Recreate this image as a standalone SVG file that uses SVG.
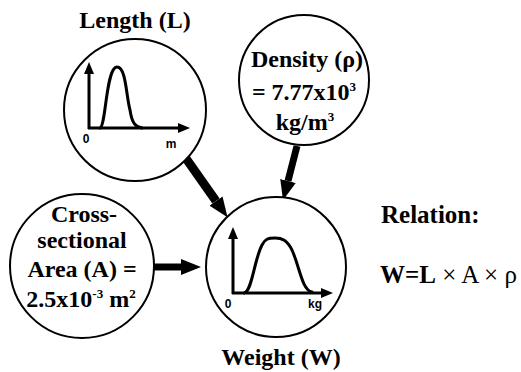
<svg xmlns="http://www.w3.org/2000/svg" width="521" height="372" viewBox="0 0 521 372">
<style>
.bg{fill:#fff}
.node{fill:#fff;stroke:#000;stroke-width:2}
.t{font-family:'Liberation Serif','DejaVu Serif',serif;font-weight:700;font-size:24px;fill:#000;text-anchor:middle}
.s{font-family:'Liberation Sans','DejaVu Sans',sans-serif;font-weight:700;font-size:12px;fill:#000;text-anchor:middle}
.ax{stroke:#000;stroke-width:3;fill:none}
.ah{fill:#000}
.curve{stroke:#000;stroke-width:3;fill:none;stroke-linecap:round}
.conn{stroke:#000;fill:none}
</style>
<defs>
<marker id="head" viewBox="0 0 20 16" refX="0" refY="8" markerWidth="20" markerHeight="16" markerUnits="userSpaceOnUse" orient="auto">
<path d="M0,0 L20,8 L0,16 z" fill="#000"/>
</marker>
</defs>
<rect class="bg" x="0" y="0" width="521" height="372"/>
<g id="connectors">
<line class="conn" x1="185" y1="157" x2="216" y2="201" stroke-width="9" marker-end="url(#head)"/>
<line class="conn" x1="297" y1="146" x2="288" y2="181" stroke-width="7" marker-end="url(#head)"/>
<line class="conn" x1="154" y1="267" x2="181" y2="267" stroke-width="7" marker-end="url(#head)"/>
</g>
<g id="length">
<text class="t" x="135" y="28">Length (L)</text>
<circle class="node" cx="135" cy="110" r="71"/>
<line class="ax" x1="89" y1="129" x2="89" y2="72"/>
<polygon class="ah" points="84,74 89,62 94,74"/>
<line class="ax" x1="88" y1="128" x2="178" y2="128"/>
<polygon class="ah" points="178,123 190,128 178,133"/>
<path class="curve" d="M100,128 C106,126 106,67 117,67 C126,67 126,95 130,110 C132,124 136,127 142,128"/>
<text class="s" x="86" y="143">0</text>
<text class="s" x="171" y="148">m</text>
</g>
<g id="density">
<circle class="node" cx="304" cy="80" r="65"/>
<text class="t" x="307" y="67">Density (ρ)</text>
<text class="t" x="304" y="100">= 7.77x10<tspan font-size="13" dy="-9">3</tspan></text>
<text class="t" x="305" y="130">kg/m<tspan font-size="13" dy="-9">3</tspan></text>
</g>
<g id="area">
<circle class="node" cx="82" cy="266" r="72"/>
<text class="t" x="84" y="222">Cross-</text>
<text class="t" x="82" y="248">sectional</text>
<text class="t" x="82" y="277">Area (A) =</text>
<text class="t" x="81" y="307">2.5x10<tspan font-size="13" dy="-9">-3</tspan><tspan dy="9"> m</tspan><tspan font-size="13" dy="-9">2</tspan></text>
</g>
<g id="weight">
<circle class="node" cx="276" cy="267" r="70"/>
<line class="ax" x1="233" y1="294" x2="233" y2="238"/>
<polygon class="ah" points="228,239 233,227 238,239"/>
<line class="ax" x1="232" y1="293" x2="322" y2="293"/>
<polygon class="ah" points="321,288 333,293 321,298"/>
<path class="curve" d="M244,293 C252,292 254,260 262,245 C265,239 268,238 275,238 C282,238 287,240 292,250 C300,268 302,290 312,292"/>
<text class="s" x="228" y="308">0</text>
<text class="s" x="315" y="308">kg</text>
<text class="t" x="281" y="365" font-size="23">Weight (W)</text>
</g>
<g id="relation">
<text class="t" x="381" y="223" font-size="25" style="text-anchor:start;font-size:25px">Relation:</text>
<text class="t" x="380" y="283" style="text-anchor:start;font-size:25px">W=L<tspan font-weight="400"> × A × ρ</tspan></text>
</g>
</svg>
